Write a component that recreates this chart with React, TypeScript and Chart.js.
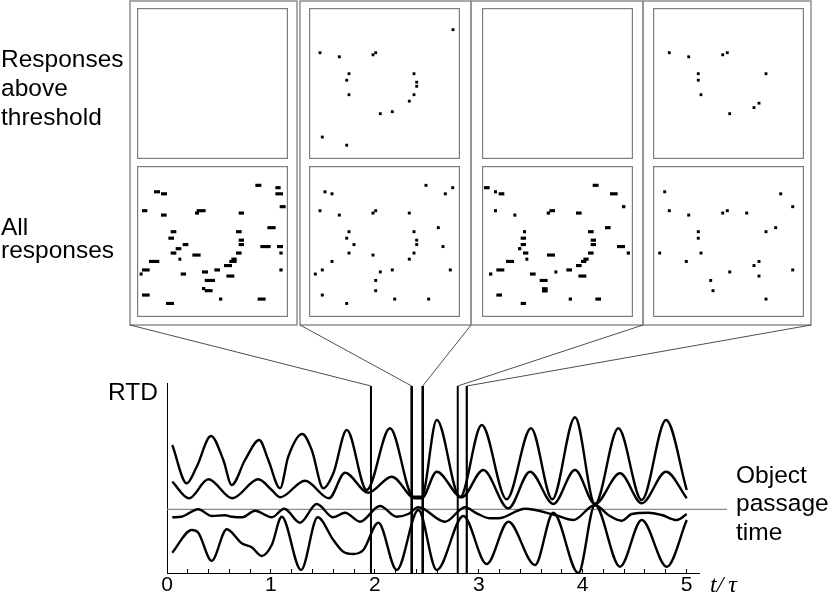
import React, { useEffect, useRef } from 'react';
import { Chart, registerables } from 'chart.js';

Chart.register(...registerables);

const SANS = '"Liberation Sans", Arial, Helvetica, sans-serif';

// ---- Bottom plot: response time distributions (t/τ, RTD) ----
const curveA: [number, number][] = [
  [0.051, 12.8], [0.19, 8.97], [0.286, 10.63], [0.423, 13.7], [0.542, 11.3], [0.623, 8.8],
  [0.751, 11.3], [0.888, 13.3], [0.975, 11.3], [1.088, 8.47], [1.167, 11.63], [1.302, 13.9],
  [1.393, 12.3], [1.504, 8.47], [1.601, 9.97], [1.73, 14.3], [1.922, 8.3], [2.146, 14.47],
  [2.371, 7.63], [2.451, 7.63], [2.596, 15.3], [2.82, 7.57], [3.029, 14.8], [3.269, 7.37],
  [3.503, 14.47], [3.708, 7.37], [3.927, 15.57], [4.119, 6.9], [4.344, 14.47], [4.569, 7.3],
  [4.803, 15.3], [5.002, 8.3],
];
const curveB: [number, number][] = [
  [0.051, 9.13], [0.212, 7.47], [0.398, 9.37], [0.628, 7.47], [0.879, 9.37], [1.008, 8.3],
  [1.088, 7.57], [1.328, 9.23], [1.559, 7.47], [1.713, 10.03], [1.937, 8.03], [2.163, 9.63],
  [2.387, 7.47], [2.451, 7.47], [2.596, 10.13], [2.836, 7.57], [3.044, 10.3], [3.285, 6.47],
  [3.494, 10.13], [3.718, 6.9], [3.927, 10.3], [4.119, 6.9], [4.36, 9.97], [4.569, 6.97],
  [4.803, 10.13], [5.002, 7.47],
];
const curveC: [number, number][] = [
  [0.051, 5.57], [0.141, 5.63], [0.301, 6.37], [0.43, 5.7], [0.558, 5.77], [0.626, 5.63],
  [0.725, 5.57], [0.847, 6.23], [1.008, 5.57], [1.129, 6.43], [1.28, 5.03], [1.441, 6.9],
  [1.601, 5.57], [1.713, 6.03], [1.858, 5.13], [2.05, 6.7], [2.211, 5.63], [2.322, 5.9],
  [2.419, 6.57], [2.676, 5.13], [2.868, 6.57], [2.981, 5.97], [3.109, 5.47], [3.189, 5.47],
  [3.446, 6.43], [3.734, 5.8], [3.91, 5.3], [4.119, 6.8], [4.247, 5.8], [4.376, 5.23],
  [4.473, 5.9], [4.632, 6.03], [4.761, 5.8], [4.906, 5.3], [5.002, 5.9],
];
const curveD: [number, number][] = [
  [0.051, 2.03], [0.238, 4.3], [0.301, 4.03], [0.43, 1.23], [0.575, 4.37], [0.719, 2.97],
  [0.815, 2.57], [0.911, 1.7], [1.008, 2.8], [1.104, 5.63], [1.29, 0.3], [1.45, 5.57],
  [1.601, 3.3], [1.697, 2.13], [1.793, 1.9], [1.889, 2.3], [2.034, 5.03], [2.211, 0.3],
  [2.419, 6.3], [2.596, 0.3], [2.852, 5.7], [3.077, 0.9], [3.285, 5.13], [3.542, 0.8],
  [3.718, 6.03], [3.959, 0.0], [4.119, 6.8], [4.36, 0.63], [4.569, 5.3], [4.81, 0.63],
  [5.002, 5.3],
];
const markerTimes = [1.963, 2.355, 2.461, 2.798, 2.885];
const markerWidths = [2, 2.6, 2.6, 2, 2.2];
const markerTop = 18.7;
const passageLevel = 6.37;
const passageLineEnd = 5.39;
const xTickLabels = ['0', '1', '2', '3', '4', '5'];

// ---- Raster panels: [x, y] dots and [x0, x1, y] dashes (panel units 0..151) ----
const aboveDots2: [number, number][] = [
  [144, 14], [11, 40.3], [30.3, 45], [64, 42.7], [66.7, 40.3], [40, 64.3], [37.7, 71.7],
  [40, 88.3], [105, 64.3], [107.7, 74], [107.7, 78.7], [105, 88.3], [100.3, 95.7],
  [71.3, 110], [83.3, 107.7], [13.3, 136.7], [37.7, 146],
];
const aboveDots4: [number, number][] = [
  [16.3, 40.3], [35.7, 45], [69.7, 42.7], [74.3, 40.3], [45.3, 64.3], [45.3, 71.7],
  [48, 88.3], [113, 64.3], [106, 98], [101, 103], [76.7, 110],
];
const allDashes1: [number, number, number][] = [
  [118.7, 124, 11.3], [138.7, 143.3, 14], [17.3, 22.7, 18.7], [24.3, 29.7, 21], [138.7, 145.7, 21],
  [143, 148.3, 35.7], [5.3, 10, 40.3], [60, 68.3, 40.3], [58.3, 61.7, 43], [24.3, 29.3, 45.3],
  [102, 106.7, 43], [130.7, 138.3, 59.7], [34, 39, 64.3], [99.3, 104.3, 64.3], [31.7, 36.7, 71.7],
  [102, 106.7, 74], [46, 51, 79], [102, 106.7, 79], [123.7, 133.3, 81.3], [140.3, 145.7, 81.3],
  [39, 44, 83.7], [34, 39, 88.7], [99.3, 104.3, 88.7], [142.7, 145.3, 88.7], [55.7, 63.3, 91],
  [41.7, 44, 95.7], [94.7, 99.3, 95.7], [92.7, 99.3, 98.3], [12.3, 22, 98.3], [87.3, 94.7, 103],
  [5.3, 12.3, 108], [77.7, 82.7, 108], [142.7, 145.3, 108], [3, 5.3, 112.7], [44, 48.7, 112.7],
  [65.3, 70.7, 110.3], [89.7, 97, 115], [68, 77.7, 120], [65.3, 68, 129.3], [68, 75.3, 131.7],
  [5.3, 12.3, 136.7], [82.3, 85, 141.3], [121, 128.3, 141.3], [29.3, 36.7, 146.3],
];
const allDots2: [number, number][] = [
  [117, 11.3], [143.7, 14], [16, 18.7], [23, 21], [136.3, 21], [11, 40.3], [30.3, 45.3],
  [64, 43], [66.7, 40.3], [100.3, 43], [129.3, 59.7], [40, 64.3], [37.7, 71.7], [45, 79],
  [105, 64.3], [107.7, 74], [107.7, 79], [134, 81.3], [40, 88.7], [64, 91], [105, 88.7],
  [100.3, 95.7], [23, 98.3], [13.3, 108], [6.3, 112.7], [71.3, 110.3], [83.3, 108],
  [141.3, 108], [66.7, 120], [66.7, 131.7], [13.3, 136.7], [85.7, 141.3], [119.7, 141.3],
  [37.7, 146.3],
];
const allDashes3: [number, number, number][] = [
  [111, 116.3, 11.3], [2.3, 7.3, 14], [12.3, 14.7, 18.7], [17, 22, 21], [128.3, 135.3, 21],
  [140.3, 143, 35.7], [12.3, 14.7, 40.3], [67.7, 72.7, 40.3], [65, 67.7, 43], [31.7, 34, 45.3],
  [94.3, 99.3, 43], [123.3, 128.3, 59.7], [41.3, 43.7, 64.3], [106.3, 111.3, 64.3], [39, 43.7, 71.7],
  [109, 113.7, 74], [39, 43.7, 79], [109, 113.7, 79], [135.3, 142.7, 81.3], [36.3, 39, 83.7],
  [41.3, 46, 88.7], [106.3, 111.3, 88.7], [145, 147.7, 88.7], [65.3, 72.7, 91], [43.7, 46, 95.7],
  [101.7, 106.3, 95.7], [99.3, 104, 98.3], [24.3, 31.7, 98.3], [94.3, 99.3, 103], [14.7, 22, 108],
  [84.7, 89.7, 108], [72.7, 75, 110.3], [7.3, 10, 112.7], [48.3, 53.3, 112.7], [96.7, 104, 115],
  [58, 65.3, 120], [60.3, 65.3, 129.5], [60.3, 65.3, 132], [14.7, 19.7, 136.7], [87, 89.7, 141.3],
  [113.7, 118.7, 141.3], [39, 43.7, 146.3],
];
const allDots4: [number, number][] = [
  [11.7, 18.7], [127.7, 21], [139.7, 35.7], [16.3, 40.3], [35.7, 45.3], [69.7, 43], [74.3, 40.3],
  [93.7, 43], [122.7, 59.7], [45.3, 64.3], [113, 64.3], [45.3, 71.7], [6.7, 88.7], [48, 88.7],
  [33.3, 98.3], [106, 98.3], [101, 103], [139.7, 108], [76.7, 110.3], [106, 115], [57.7, 120],
  [60, 131.7], [113, 141.3],
];

const rowLabels = [['Responses', 'above', 'threshold'], ['All', 'responses']];
const passageLabel = ['Object', 'passage', 'time'];

// ---- layout ----
const PANEL_LEFT = [137, 309, 482, 653];
const PANEL_TOP = [8, 166];
const PANEL_SIZE = 151;
const BOXES: [number, number][] = [[130, 297], [300, 471], [471, 643], [643, 811]];
const BOX_TOP = 1;
const BOX_BOTTOM = 325;
const CONNECT_X = [130, 300, 471, 643, 811];

const dotsToDashes = (d: [number, number][], w: number): [number, number, number][] =>
  d.map(([x, y]) => [x - w / 2, x + w / 2, y]);

const PANELS: { row: number; col: number; dashes: [number, number, number][]; thick: number }[] = [
  { row: 0, col: 0, dashes: [], thick: 2.2 },
  { row: 0, col: 1, dashes: dotsToDashes(aboveDots2, 2.2), thick: 2.2 },
  { row: 0, col: 2, dashes: [], thick: 2.2 },
  { row: 0, col: 3, dashes: dotsToDashes(aboveDots4, 2.2), thick: 2.2 },
  { row: 1, col: 0, dashes: allDashes1, thick: 2.5 },
  { row: 1, col: 1, dashes: dotsToDashes(allDots2, 2.3), thick: 2.3 },
  { row: 1, col: 2, dashes: allDashes3, thick: 2.5 },
  { row: 1, col: 3, dashes: dotsToDashes(allDots4, 2.3), thick: 2.3 },
];

const framePlugin = {
  id: 'frame',
  afterDraw(chart: any) {
    const { ctx, chartArea } = chart;
    ctx.save();
    ctx.strokeStyle = '#7d7d7d';
    ctx.lineWidth = 1.2;
    ctx.strokeRect(chartArea.left + 0.6, chartArea.top + 0.6, chartArea.width - 1.2, chartArea.height - 1.2);
    ctx.restore();
  },
};

const overlayPlugin = {
  id: 'overlay',
  afterDraw(chart: any) {
    const { ctx } = chart;
    const xs = chart.scales.x;
    const ys = chart.scales.y;
    ctx.save();
    // outer boxes
    ctx.strokeStyle = '#8f8f8f';
    ctx.lineWidth = 1.5;
    BOXES.forEach(([l, r]) => ctx.strokeRect(l, BOX_TOP, r - l, BOX_BOTTOM - BOX_TOP));
    // connectors to marker tops
    ctx.strokeStyle = '#3a3a3a';
    ctx.lineWidth = 0.9;
    CONNECT_X.forEach((bx, i) => {
      ctx.beginPath();
      ctx.moveTo(bx, BOX_BOTTOM);
      ctx.lineTo(xs.getPixelForValue(markerTimes[i]), ys.getPixelForValue(markerTop));
      ctx.stroke();
    });
    // texts
    ctx.fillStyle = '#000';
    ctx.textBaseline = 'alphabetic';
    ctx.font = `24.5px ${SANS}`;
    ctx.textAlign = 'left';
    [67, 96, 125].forEach((y, i) => ctx.fillText(rowLabels[0][i], 1, y));
    [235, 258].forEach((y, i) => ctx.fillText(rowLabels[1][i], 1, y));
    [483, 511, 540].forEach((y, i) => ctx.fillText(passageLabel[i], 736, y));
    ctx.textAlign = 'right';
    ctx.fillText('RTD', 158, 400);
    ctx.textAlign = 'left';
    ctx.font = `italic 24px "Liberation Serif", "Times New Roman", serif`;
    ctx.fillText('t/\u2009τ', 710, 592);
    ctx.restore();
  },
};

const curveDataset = (pts: [number, number][]) => ({
  data: pts.map(([x, y]) => ({ x, y })),
  borderColor: '#000',
  borderWidth: 2.4,
  pointRadius: 0,
  cubicInterpolationMode: 'monotone' as const,
  fill: false,
  order: 1,
});

export default function App() {
  const mainRef = useRef<HTMLCanvasElement>(null);
  const panelRefs = useRef<(HTMLCanvasElement | null)[]>([]);

  useEffect(() => {
    document.body.style.margin = '0';
    const charts: Chart[] = [];
    const datasets: any[] = [
      {
        data: [{ x: 0, y: passageLevel }, { x: passageLineEnd, y: passageLevel }],
        borderColor: '#8a8a8a',
        borderWidth: 1.2,
        pointRadius: 0,
        clip: false,
        order: 10,
      },
      curveDataset(curveA),
      curveDataset(curveB),
      curveDataset(curveC),
      curveDataset(curveD),
      ...markerTimes.map((t, i) => ({
        data: [{ x: t, y: 0 }, { x: t, y: markerTop }],
        borderColor: '#000',
        borderWidth: markerWidths[i],
        pointRadius: 0,
        order: 0,
      })),
    ];
    charts.push(
      new Chart(mainRef.current!, {
        type: 'line',
        data: { datasets },
        options: {
          animation: false,
          responsive: false,
          devicePixelRatio: 1,
          events: [],
          layout: { padding: { left: 167, right: 131, top: 383, bottom: 0 } },
          plugins: { legend: { display: false }, tooltip: { enabled: false } },
          scales: {
            x: {
              type: 'linear',
              min: 0,
              max: 5.12,
              afterFit: (s: any) => { s.height = 23; },
              border: { display: true, color: '#000', width: 1 },
              grid: { display: true, drawOnChartArea: false, drawTicks: true, tickLength: -4, color: '#000', lineWidth: 1 },
              ticks: {
                stepSize: 0.2,
                autoSkip: false,
                maxRotation: 0,
                includeBounds: false,
                padding: 4,
                color: '#000',
                font: { family: SANS, size: 21 },
                callback: (v: any) => {
                  const r = Math.round(v);
                  return Math.abs(v - r) < 1e-6 ? xTickLabels[r] : '';
                },
              },
            },
            y: {
              type: 'linear',
              min: 0,
              max: 19,
              afterFit: (s: any) => { s.width = 0; },
              border: { display: true, color: '#000', width: 1 },
              grid: { display: false },
              ticks: { display: false },
            },
          },
        } as any,
        plugins: [overlayPlugin],
      })
    );
    PANELS.forEach((p, i) => {
      charts.push(
        new Chart(panelRefs.current[i]!, {
          type: 'bar',
          data: {
            datasets: [
              {
                data: p.dashes.map(([x0, x1, y]) => ({ y, x: [x0, x1] })) as any,
                backgroundColor: '#000',
                borderWidth: 0,
                barThickness: p.thick,
                grouped: false,
              } as any,
            ],
          },
          options: {
            indexAxis: 'y',
            animation: false,
            responsive: false,
            devicePixelRatio: 1,
            events: [],
            layout: { padding: 0 },
            plugins: { legend: { display: false }, tooltip: { enabled: false } },
            scales: {
              x: { type: 'linear', min: 0, max: PANEL_SIZE, display: false },
              y: { type: 'linear', min: 0, max: PANEL_SIZE, reverse: true, display: false },
            },
          } as any,
          plugins: [framePlugin],
        })
      );
    });
    return () => charts.forEach((c) => c.destroy());
  }, []);

  return (
    <div style={{ position: 'relative', width: 830, height: 596, overflow: 'hidden', background: '#fff' }}>
      <canvas ref={mainRef} width={830} height={596} style={{ position: 'absolute', left: 0, top: 0 }} />
      {PANELS.map((p, i) => (
        <canvas
          key={i}
          ref={(el) => { panelRefs.current[i] = el; }}
          width={PANEL_SIZE}
          height={PANEL_SIZE}
          style={{ position: 'absolute', left: PANEL_LEFT[p.col], top: PANEL_TOP[p.row] }}
        />
      ))}
    </div>
  );
}
